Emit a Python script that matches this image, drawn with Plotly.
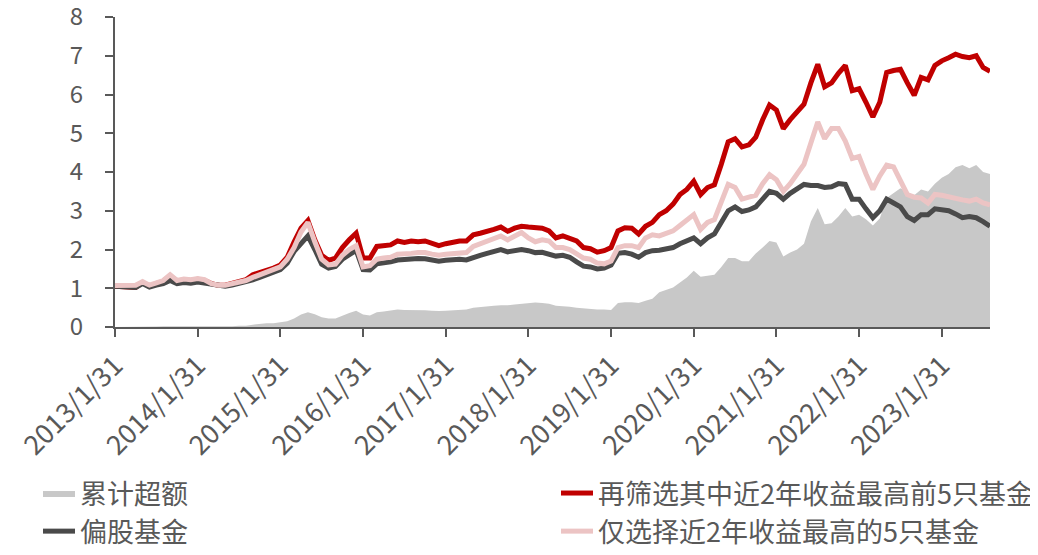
import plotly.graph_objects as go

months = [f"{y}/{m}" for y in range(2013, 2024) for m in range(1, 13)][:128]

tick_idx = list(range(0, 128, 12))
tick_labels = [f"{y}/1/31" for y in range(2013, 2024)]
y_ticks = [0, 1, 2, 3, 4, 5, 6, 7, 8]

red = [1.05, 1.05, 1.03, 1.02, 1.15, 1.05, 1.12, 1.18, 1.32, 1.18, 1.22, 1.20,
       1.23, 1.20, 1.12, 1.08, 1.08, 1.13, 1.18, 1.22, 1.35, 1.40, 1.48, 1.52,
       1.60, 1.80, 2.20, 2.55, 2.75, 2.25, 1.85, 1.72, 1.78, 2.05, 2.25, 2.42,
       1.78, 1.78, 2.08, 2.10, 2.12, 2.22, 2.18, 2.22, 2.20, 2.22, 2.15, 2.10,
       2.15, 2.20, 2.22, 2.22, 2.38, 2.42, 2.46, 2.52, 2.58, 2.47, 2.55, 2.60,
       2.58, 2.55, 2.55, 2.48, 2.30, 2.35, 2.28, 2.22, 2.05, 2.02, 1.93, 1.97,
       2.05, 2.48, 2.56, 2.55, 2.40, 2.60, 2.70, 2.90, 3.00, 3.17, 3.42, 3.55,
       3.76, 3.42, 3.60, 3.67, 4.20, 4.78, 4.86, 4.65, 4.70, 4.90, 5.35, 5.73,
       5.60, 5.12, 5.35, 5.55, 5.75, 6.30, 6.78, 6.20, 6.30, 6.55, 6.75, 6.10,
       6.15, 5.80, 5.42, 5.80, 6.57, 6.62, 6.65, 6.30, 5.98, 6.44, 6.38, 6.75,
       6.87, 6.95, 7.04, 6.98, 6.95, 7.00, 6.70, 6.60]

pink = [1.07, 1.08, 1.07, 1.08, 1.17, 1.08, 1.14, 1.20, 1.35, 1.20, 1.24, 1.22,
        1.25, 1.22, 1.12, 1.08, 1.08, 1.12, 1.17, 1.20, 1.28, 1.35, 1.42, 1.48,
        1.55, 1.75, 2.05, 2.45, 2.70, 2.20, 1.75, 1.60, 1.62, 1.85, 2.00, 2.10,
        1.55, 1.58, 1.75, 1.78, 1.80, 1.88, 1.88, 1.90, 1.92, 1.92, 1.88, 1.85,
        1.88, 1.90, 1.92, 1.92, 2.08, 2.15, 2.22, 2.30, 2.35, 2.25, 2.35, 2.44,
        2.30, 2.20, 2.25, 2.22, 2.05, 2.05, 2.00, 1.90, 1.78, 1.75, 1.65, 1.63,
        1.70, 2.05, 2.10, 2.10, 2.05, 2.30, 2.38, 2.35, 2.40, 2.48, 2.62, 2.75,
        2.90, 2.52, 2.70, 2.77, 3.20, 3.68, 3.60, 3.30, 3.35, 3.40, 3.70, 3.93,
        3.80, 3.50, 3.70, 3.95, 4.20, 4.75, 5.29, 4.86, 5.12, 5.12, 4.80, 4.35,
        4.40, 3.95, 3.55, 3.90, 4.18, 4.13, 3.80, 3.42, 3.35, 3.33, 3.20, 3.42,
        3.40, 3.35, 3.30, 3.28, 3.25, 3.30, 3.20, 3.15]

black = [1.05, 1.05, 1.03, 1.02, 1.12, 1.03, 1.08, 1.12, 1.20, 1.12, 1.15, 1.13,
         1.16, 1.13, 1.08, 1.05, 1.05, 1.08, 1.12, 1.15, 1.22, 1.28, 1.35, 1.42,
         1.48, 1.65, 1.95, 2.15, 2.35, 2.00, 1.62, 1.52, 1.56, 1.75, 1.88, 1.98,
         1.48, 1.47, 1.63, 1.65, 1.68, 1.73, 1.75, 1.77, 1.77, 1.76, 1.72, 1.70,
         1.72, 1.74, 1.75, 1.73, 1.80, 1.85, 1.90, 1.95, 2.00, 1.94, 1.98, 2.00,
         1.97, 1.92, 1.93, 1.89, 1.83, 1.85, 1.80, 1.68, 1.57, 1.55, 1.50, 1.52,
         1.60, 1.90, 1.92, 1.88, 1.80, 1.92, 1.97, 1.98, 2.02, 2.05, 2.15, 2.22,
         2.30, 2.15, 2.30, 2.40, 2.70, 3.00, 3.10, 2.98, 3.02, 3.10, 3.30, 3.50,
         3.45, 3.30, 3.45, 3.58, 3.68, 3.65, 3.65, 3.60, 3.62, 3.70, 3.68, 3.30,
         3.30, 3.05, 2.82, 3.00, 3.30, 3.20, 3.10, 2.85, 2.75, 2.90, 2.90, 3.05,
         3.02, 3.00, 2.92, 2.82, 2.85, 2.82, 2.72, 2.60]

excess = [0.00, 0.00, 0.00, 0.00, 0.01, 0.01, 0.01, 0.02, 0.02, 0.02, 0.02, 0.02,
          0.02, 0.02, 0.01, 0.01, 0.01, 0.02, 0.03, 0.03, 0.06, 0.08, 0.10, 0.10,
          0.12, 0.15, 0.22, 0.32, 0.38, 0.33, 0.25, 0.22, 0.22, 0.30, 0.36, 0.42,
          0.32, 0.30, 0.38, 0.40, 0.42, 0.45, 0.44, 0.44, 0.43, 0.43, 0.42, 0.41,
          0.42, 0.43, 0.44, 0.45, 0.50, 0.52, 0.53, 0.55, 0.56, 0.56, 0.58, 0.60,
          0.62, 0.63, 0.62, 0.60, 0.55, 0.54, 0.52, 0.50, 0.48, 0.47, 0.45, 0.45,
          0.44, 0.62, 0.64, 0.64, 0.62, 0.68, 0.73, 0.90, 0.95, 1.02, 1.15, 1.28,
          1.45, 1.30, 1.32, 1.35, 1.55, 1.78, 1.78, 1.70, 1.70, 1.90, 2.05, 2.22,
          2.18, 1.82, 1.92, 2.00, 2.15, 2.72, 3.07, 2.65, 2.68, 2.85, 3.07, 2.85,
          2.90, 2.78, 2.62, 2.80, 3.33, 3.45, 3.58, 3.48, 3.40, 3.55, 3.50, 3.70,
          3.85, 3.95, 4.12, 4.18, 4.10, 4.18, 4.00, 3.95]

names = ["累计超额", "再筛选其中近2年收益最高前5只基金", "偏股基金", "仅选择近2年收益最高的5只基金"]

x = list(range(len(months)))
txt = "#595959"
font_family = "Noto Sans CJK SC, Noto Sans, sans-serif"

fig = go.Figure()
fig.add_trace(go.Scatter(x=x, y=excess, name=names[0], mode="lines", fill="tozeroy",
                         line=dict(width=0, color="#C8C8C8"), fillcolor="#C8C8C8",
                         customdata=months, legend="legend", legendgroup="g0"))
fig.add_trace(go.Scatter(x=x, y=red, name=names[1], mode="lines",
                         line=dict(width=5, color="#C00000"), customdata=months,
                         legend="legend2", legendgroup="g1"))
fig.add_trace(go.Scatter(x=x, y=black, name=names[2], mode="lines",
                         line=dict(width=5, color="#4A4A4A"), customdata=months,
                         legend="legend", legendgroup="g2"))
fig.add_trace(go.Scatter(x=x, y=pink, name=names[3], mode="lines",
                         line=dict(width=5, color="#ECC4C4"), customdata=months,
                         legend="legend2", legendgroup="g3"))

legend_common = dict(orientation="v", yanchor="top", xanchor="left", y=-0.458,
                     font=dict(size=27, color=txt, family=font_family),
                     itemwidth=32, tracegroupgap=3, traceorder="normal",
                     bgcolor="rgba(0,0,0,0)")

# page body has an 8px default margin, so the figure is sized/offset accordingly
fig.update_layout(
    width=1030, height=547,
    margin=dict(l=107, r=48, t=9, b=228, autoexpand=False),
    paper_bgcolor="white", plot_bgcolor="white",
    font=dict(family=font_family, size=24, color=txt),
    showlegend=True,
    legend=dict(x=-0.088, **legend_common),
    legend2=dict(x=0.504, **legend_common),
)
fig.update_xaxes(range=[0, len(months) - 1], tickmode="array", tickvals=tick_idx,
                 ticktext=tick_labels, tickangle=-45, showgrid=False, zeroline=False,
                 showline=True, linecolor="#595959", linewidth=2,
                 ticks="outside", ticklen=8, tickwidth=2, tickcolor="#595959",
                 ticklabelstandoff=2, automargin=False, ticklabeloverflow="allow",
                 tickfont=dict(size=27, color=txt))
fig.update_yaxes(range=[0, 8.001], tickmode="array", tickvals=y_ticks,
                 showgrid=False, zeroline=False,
                 showline=True, linecolor="#595959", linewidth=2,
                 ticks="outside", ticklen=8, tickwidth=2, tickcolor="#595959",
                 ticklabelstandoff=17, automargin=False, ticklabeloverflow="allow",
                 tickfont=dict(size=24, color=txt))

fig.write_html("out.html")
